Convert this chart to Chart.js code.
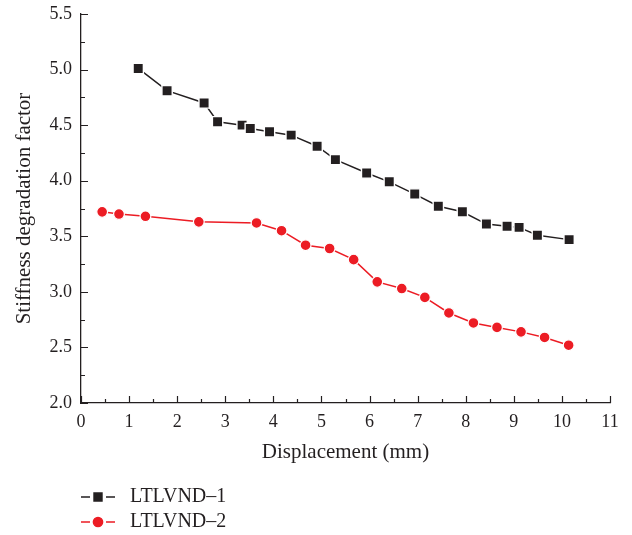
<!DOCTYPE html>
<html>
<head>
<meta charset="utf-8">
<script src="https://cdn.jsdelivr.net/npm/chart.js@4.4.1/dist/chart.umd.min.js"></script>
<style>
  body { margin: 0; background: #fff; }
  canvas { display: block; }
</style>
</head>
<body>
<canvas id="stiffChart" width="632" height="535"></canvas>
<script>
// data
var seriesNames = ["LTLVND\u20131", "LTLVND\u20132"];
var disp1 = [1.19, 1.79, 2.56, 2.84, 3.35, 3.52, 3.92, 4.37, 4.91, 5.29, 5.94, 6.41, 6.94, 7.43, 7.93, 8.43, 8.86, 9.11, 9.49, 10.15];
var stiff1 = [5.01, 4.81, 4.70, 4.53, 4.50, 4.47, 4.44, 4.41, 4.31, 4.19, 4.07, 3.99, 3.88, 3.77, 3.72, 3.61, 3.59, 3.58, 3.51, 3.47];
var disp2 = [0.44, 0.79, 1.34, 2.45, 3.65, 4.17, 4.67, 5.17, 5.67, 6.16, 6.67, 7.15, 7.65, 8.16, 8.65, 9.15, 9.64, 10.14];
var stiff2 = [3.72, 3.70, 3.68, 3.63, 3.62, 3.55, 3.42, 3.39, 3.29, 3.09, 3.03, 2.95, 2.81, 2.72, 2.68, 2.64, 2.59, 2.52];
var xMin = 0, xMax = 11, xStep = 1;
var yMin = 2.0, yMax = 5.5, yStep = 0.5;
//

const INK = "#231f20";
const RED = "#ec1c24";
const SERIF = "'Liberation Serif', 'DejaVu Serif', serif";

function toPoints(xs, ys) {
  return xs.map(function (x, i) { return { x: x, y: ys[i] }; });
}

// inward major + minor tick marks on both axes
const tickMarks = {
  id: "tickMarks",
  afterDraw(chart) {
    const ctx = chart.ctx, xs = chart.scales.x, ys = chart.scales.y;
    const area = chart.chartArea;
    ctx.save();
    ctx.strokeStyle = INK;
    ctx.lineWidth = 1.2;
    ctx.beginPath();
    for (let v = xMin; v <= xMax + 1e-9; v += xStep / 2) {
      const px = Math.round(xs.getPixelForValue(v)) + 0.5;
      const len = Math.abs(v - Math.round(v)) < 1e-6 ? 7 : 4;
      ctx.moveTo(px, area.bottom);
      ctx.lineTo(px, area.bottom - len);
    }
    for (let v = yMin; v <= yMax + 1e-9; v += yStep / 2) {
      const py = Math.round(ys.getPixelForValue(v)) + 0.5;
      const len = Math.abs(v / yStep - Math.round(v / yStep)) < 1e-6 ? 7 : 4;
      ctx.moveTo(area.left, py);
      ctx.lineTo(area.left + len, py);
    }
    ctx.stroke();
    ctx.restore();
  }
};

// stacked legend under the x axis title
const stackLegend = {
  id: "stackLegend",
  afterDraw(chart) {
    const ctx = chart.ctx;
    const rows = [497, 522];
    ctx.save();
    chart.data.datasets.forEach(function (ds, i) {
      const y = rows[i];
      ctx.strokeStyle = ds.borderColor;
      ctx.lineWidth = 1.5;
      ctx.beginPath();
      ctx.moveTo(81, y); ctx.lineTo(90, y);
      ctx.moveTo(106, y); ctx.lineTo(115, y);
      ctx.stroke();
      ctx.fillStyle = ds.pointBackgroundColor;
      ctx.strokeStyle = ds.pointBackgroundColor;
      Chart.helpers.drawPoint(ctx, {
        pointStyle: ds.pointStyle,
        radius: ds.pointStyle === "rect" ? 5.6 : 4.6,
        borderWidth: 0.5,
        rotation: 0
      }, 98, y);
      ctx.fillStyle = INK;
      ctx.font = "20px " + SERIF;
      ctx.textBaseline = "middle";
      ctx.fillText(ds.label, 130, y);
    });
    ctx.restore();
  }
};

const CHART = document.getElementById("stiffChart");
let stiffChart = new Chart(CHART, {
  type: "scatter",
  data: {
    datasets: [
      {
        label: seriesNames[0],
        data: toPoints(disp1, stiff1),
        showLine: true,
        borderColor: INK,
        borderWidth: 1.5,
        pointStyle: "rect",
        pointRadius: 7.3,
        pointBackgroundColor: INK,
        pointBorderColor: "#fff",
        pointBorderWidth: 1.4
      },
      {
        label: seriesNames[1],
        data: toPoints(disp2, stiff2),
        showLine: true,
        borderColor: RED,
        borderWidth: 1.5,
        pointStyle: "circle",
        pointRadius: 5.4,
        pointBackgroundColor: RED,
        pointBorderColor: "#fff",
        pointBorderWidth: 1.2
      }
    ]
  },
  options: {
    responsive: false,
    animation: false,
    layout: { padding: { left: 0, right: 22, top: 14, bottom: 0 } },
    plugins: {
      legend: { display: false },
      tooltip: { enabled: false }
    },
    scales: {
      x: {
        type: "linear",
        min: xMin, max: xMax,
        afterFit(scale) { scale.height = 132; },
        grid: { display: false, drawTicks: false },
        border: { display: true, color: INK, width: 1.3 },
        ticks: {
          stepSize: xStep, padding: 8, color: INK,
          font: { family: SERIF, size: 18 }
        },
        title: {
          display: true, text: "Displacement (mm)", color: INK,
          font: { family: SERIF, size: 21 },
          padding: { top: 0, bottom: 70 }
        }
      },
      y: {
        type: "linear",
        min: yMin, max: yMax,
        afterFit(scale) { scale.width = 81; scale.paddingTop = 0; },
        grid: { display: false, drawTicks: false },
        border: { display: true, color: INK, width: 1.3 },
        ticks: {
          stepSize: yStep, padding: 9, color: INK,
          font: { family: SERIF, size: 18 },
          callback: function (v) { return Number(v).toFixed(1); }
        },
        title: {
          display: true, text: "Stiffness degradation factor", color: INK,
          font: { family: SERIF, size: 21 },
          padding: { top: 12, bottom: 0 }
        }
      }
    }
  },
  plugins: [tickMarks, stackLegend]
});
</script>
</body>
</html>
